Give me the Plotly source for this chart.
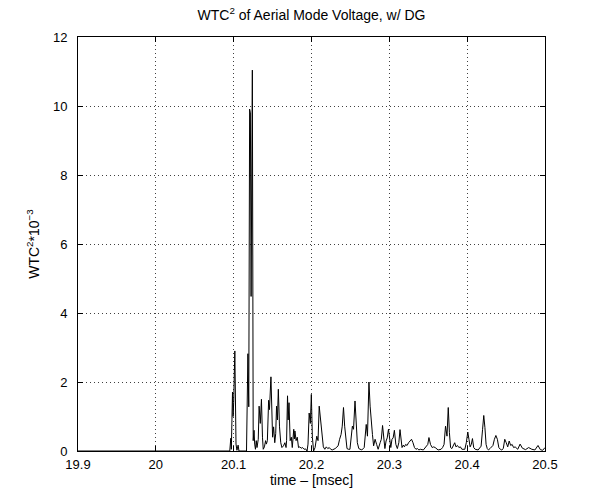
import plotly.graph_objects as go

time_ms = [
    19.900, 20.0950, 20.0963, 20.0970, 20.0978, 20.0985, 20.0993, 20.1000, 20.1015, 20.1030,
    20.1042, 20.1057, 20.1068, 20.1165, 20.1183, 20.1194, 20.1205, 20.1215, 20.1224, 20.1240,
    20.1251, 20.1262, 20.1270, 20.1280, 20.1290, 20.1300, 20.1316, 20.1327, 20.1342, 20.1357,
    20.1370, 20.1380, 20.1395, 20.1410, 20.1420, 20.1433, 20.1449, 20.1460, 20.1479, 20.1490,
    20.1500, 20.1513, 20.1528, 20.1540, 20.1551, 20.1562, 20.1574, 20.1589, 20.1605, 20.1620,
    20.1640, 20.1658, 20.1673, 20.1680, 20.1692, 20.1700, 20.1711, 20.1726, 20.1741, 20.1753,
    20.1772, 20.1780, 20.1787, 20.1802, 20.1817, 20.1833, 20.1850, 20.1867, 20.1885, 20.1905,
    20.1925, 20.1943, 20.1955, 20.1970, 20.1985, 20.1998, 20.2011, 20.2027, 20.2046, 20.2068,
    20.2084, 20.2099, 20.2120, 20.2137, 20.2152, 20.2171, 20.2190, 20.2209, 20.2228, 20.2247,
    20.2266, 20.2304, 20.2342, 20.2361, 20.2380, 20.2395, 20.2411, 20.2426, 20.2441, 20.2456,
    20.2475, 20.2494, 20.2525, 20.2540, 20.2559, 20.2574, 20.2589, 20.2608, 20.2646, 20.2677,
    20.2703, 20.2719, 20.2738, 20.2753, 20.2768, 20.2783, 20.2798, 20.2817, 20.2837, 20.2856,
    20.2882, 20.2897, 20.2913, 20.2928, 20.2943, 20.2958, 20.2973, 20.2989, 20.3004, 20.3019,
    20.3034, 20.3049, 20.3065, 20.3084, 20.3103, 20.3122, 20.3137, 20.3163, 20.3179, 20.3194,
    20.3209, 20.3228, 20.3247, 20.3266, 20.3285, 20.3304, 20.3323, 20.3342, 20.3361, 20.3380,
    20.3399, 20.3437, 20.3475, 20.3494, 20.3509, 20.3529, 20.3551, 20.3570, 20.3589, 20.3627,
    20.3665, 20.3684, 20.3703, 20.3722, 20.3741, 20.3757, 20.3772, 20.3787, 20.3803, 20.3825,
    20.3840, 20.3856, 20.3875, 20.3894, 20.3913, 20.3932, 20.3970, 20.3989, 20.4008, 20.4023,
    20.4038, 20.4053, 20.4068, 20.4084, 20.4103, 20.4141, 20.4179, 20.4198, 20.4213, 20.4228,
    20.4243, 20.4258, 20.4274, 20.4293, 20.4312, 20.4331, 20.4350, 20.4369, 20.4388, 20.4407,
    20.4426, 20.4445, 20.4464, 20.4483, 20.4502, 20.4521, 20.4540, 20.4559, 20.4578, 20.4597,
    20.4616, 20.4650, 20.4680, 20.4710, 20.4750, 20.4790, 20.4830, 20.4870, 20.4910, 20.4940,
    20.4970, 20.5000,
]

wtc2_e3 = [
    0.00, 0.00, 0.37, 0.05, 0.90, 1.71, 1.00, 1.40, 2.90, 0.20,
    0.02, 0.17, 0.00, 0.00, 2.82, 1.28, 9.91, 9.80, 4.48, 11.04,
    0.30, 0.60, 0.20, 0.05, 0.30, 0.10, 0.34, 1.30, 0.80, 1.50,
    0.40, 0.05, 0.12, 0.30, 0.20, 0.30, 1.47, 1.20, 2.15, 0.77,
    0.40, 0.70, 0.24, 0.50, 1.30, 0.90, 1.79, 0.70, 0.24, 0.10,
    0.15, 0.24, 0.10, 0.30, 1.60, 0.90, 1.40, 0.30, 0.40, 0.10,
    0.63, 0.35, 0.58, 0.30, 0.40, 0.10, 0.12, 0.08, 0.10, 0.05,
    0.06, 0.00, 0.20, 1.10, 0.80, 1.64, 0.40, 0.00, 0.10, 0.43,
    0.30, 1.30, 0.87, 0.34, 0.12, 0.05, 0.12, 0.07, 0.10, 0.05,
    0.03, 0.07, 0.15, 0.34, 0.48, 0.72, 1.26, 0.72, 0.29, 0.07,
    0.05, 0.05, 0.72, 0.63, 1.45, 0.82, 0.24, 0.07, 0.03, 0.10,
    0.77, 0.43, 2.00, 1.30, 0.72, 0.48, 0.15, 0.34, 0.19, 0.05,
    0.24, 0.34, 0.74, 0.34, 0.07, 0.29, 0.38, 0.63, 0.29, 0.10,
    0.34, 0.38, 0.60, 0.19, 0.07, 0.24, 0.62, 0.10, 0.17, 0.12,
    0.19, 0.16, 0.24, 0.29, 0.34, 0.24, 0.10, 0.05, 0.07, 0.03,
    0.05, 0.03, 0.12, 0.19, 0.39, 0.19, 0.10, 0.12, 0.10, 0.03,
    0.05, 0.10, 0.19, 0.72, 0.43, 1.26, 0.53, 0.10, 0.07, 0.19,
    0.24, 0.12, 0.16, 0.10, 0.12, 0.05, 0.05, 0.24, 0.55, 0.34,
    0.12, 0.19, 0.36, 0.10, 0.05, 0.03, 0.14, 0.63, 1.03, 0.68,
    0.19, 0.07, 0.03, 0.07, 0.12, 0.16, 0.34, 0.45, 0.34, 0.10,
    0.05, 0.03, 0.07, 0.34, 0.24, 0.12, 0.29, 0.16, 0.19, 0.10,
    0.12, 0.05, 0.20, 0.08, 0.04, 0.10, 0.05, 0.03, 0.16, 0.04,
    0.02, 0.10,
]

x_ticks = [19.9, 20.0, 20.1, 20.2, 20.3, 20.4, 20.5]
x_tick_labels = ["19.9", "20", "20.1", "20.2", "20.3", "20.4", "20.5"]
y_ticks = [0, 2, 4, 6, 8, 10, 12]
y_tick_labels = ["0", "2", "4", "6", "8", "10", "12"]

FONT = "Liberation Sans, Arial, Helvetica, sans-serif"

fig = go.Figure()
fig.add_trace(go.Scatter(
    x=time_ms, y=wtc2_e3, mode="lines",
    line=dict(color="black", width=1),
    showlegend=False, hoverinfo="skip",
))

axis_common = dict(
    showline=True, linecolor="black", linewidth=1, mirror="ticks",
    ticks="inside", ticklen=5, tickwidth=1, tickcolor="black",
    showgrid=True, gridcolor="rgba(0,0,0,0.75)", gridwidth=1, griddash="1px,3px",
    zeroline=False, automargin=False, ticklabeloverflow="allow",
    tickfont=dict(family=FONT, size=13, color="black"),
)

fig.update_xaxes(
    range=[19.9, 20.5], tickvals=x_ticks, ticktext=x_tick_labels,
    ticklabelstandoff=1,
    title=dict(text="time – [msec]", font=dict(family=FONT, size=14, color="black"), standoff=0),
    **axis_common,
)
fig.update_yaxes(
    range=[0, 12], tickvals=y_ticks, ticktext=y_tick_labels,
    ticklabelstandoff=7,
    title=dict(text="WTC<sup>2</sup>*10<sup>−3</sup>", font=dict(family=FONT, size=14, color="black"), standoff=10),
    **axis_common,
)

fig.update_layout(
    width=597, height=493,
    margin=dict(l=78, r=52, t=37, b=42),
    paper_bgcolor="white", plot_bgcolor="white",
    title=dict(
        text="WTC<sup>2</sup> of Aerial Mode Voltage, w/ DG",
        font=dict(family=FONT, size=14, color="black"),
        x=(78 + 545) / 2 / 597, xanchor="center", y=1 - 15 / 493, yanchor="middle", yref="container",
    ),
)

fig.write_html("out.html", config={"displayModeBar": False, "staticPlot": True})

# remove the browser's default 8px body margin so the figure sits at the page origin
with open("out.html", "r", encoding="utf-8") as f:
    html = f.read()
if "<body>" in html:
    html = html.replace("<body>", '<body style="margin:0;padding:0;overflow:hidden">', 1)
else:
    html = html.replace("</head>", "<style>body{margin:0;padding:0;overflow:hidden}</style></head>", 1)
with open("out.html", "w", encoding="utf-8") as f:
    f.write(html)
